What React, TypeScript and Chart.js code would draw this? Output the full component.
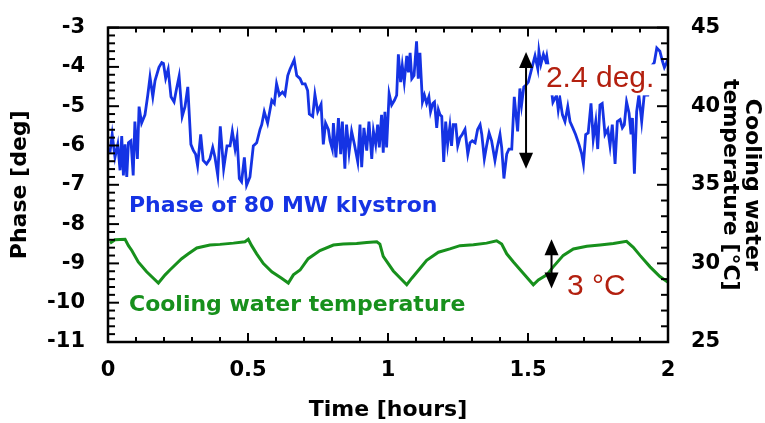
import React, { useEffect, useRef } from 'react';
import { Chart, registerables } from 'chart.js';

Chart.register(...registerables);

// Phase of 80 MW klystron [deg] vs time [hours]
const phaseTime = [
  0.007, 0.015, 0.025, 0.035, 0.043, 0.049, 0.055, 0.061, 0.067, 0.073, 0.082, 0.09, 0.096, 0.105, 0.111, 0.12,
  0.132, 0.142, 0.15, 0.16, 0.168, 0.182, 0.192, 0.198, 0.206, 0.215, 0.225, 0.236, 0.245, 0.254, 0.265, 0.275,
  0.285, 0.296, 0.305, 0.313, 0.32, 0.331, 0.34, 0.352, 0.364, 0.374, 0.382, 0.392, 0.401, 0.413, 0.425, 0.436,
  0.444, 0.454, 0.461, 0.469, 0.477, 0.487, 0.495, 0.507,
  0.519, 0.531, 0.543, 0.549, 0.558, 0.57, 0.585, 0.594, 0.602, 0.612, 0.623, 0.632, 0.642, 0.65, 0.665, 0.674,
  0.686, 0.694, 0.704, 0.713, 0.719, 0.731, 0.739, 0.749, 0.761, 0.769, 0.777, 0.787, 0.793, 0.801, 0.805, 0.814,
  0.823, 0.831, 0.837, 0.846, 0.852, 0.861, 0.87, 0.88, 0.892, 0.9, 0.906, 0.914, 0.924, 0.932, 0.942, 0.948,
  0.956, 0.963, 0.969, 0.977, 0.983, 0.989, 0.995, 1.004,
  1.013, 1.023, 1.031, 1.037, 1.045, 1.051, 1.058, 1.067, 1.073, 1.079, 1.085, 1.093, 1.102, 1.108, 1.114, 1.123,
  1.13, 1.138, 1.146, 1.152, 1.16, 1.166, 1.174, 1.18, 1.186, 1.192, 1.199, 1.206, 1.213, 1.221, 1.227, 1.233,
  1.242, 1.249, 1.257, 1.265, 1.275, 1.285, 1.293, 1.301, 1.311, 1.32, 1.329, 1.335, 1.344, 1.352, 1.361, 1.37,
  1.382, 1.39, 1.4, 1.406, 1.414, 1.424, 1.432, 1.442, 1.451, 1.463, 1.471, 1.477, 1.485, 1.492, 1.501,
  1.513, 1.525, 1.535, 1.539, 1.546, 1.555, 1.563, 1.567, 1.579, 1.589, 1.602, 1.608, 1.614, 1.623, 1.632, 1.642,
  1.65, 1.66, 1.67, 1.682, 1.692, 1.698, 1.706, 1.715, 1.725, 1.733, 1.742, 1.749, 1.757, 1.765, 1.775, 1.785,
  1.793, 1.801, 1.811, 1.819, 1.829, 1.837, 1.844, 1.852, 1.861, 1.868, 1.873, 1.88, 1.888, 1.896, 1.906, 1.915,
  1.928, 1.939, 1.951, 1.96, 1.971, 1.98, 1.987, 1.995, 2.0,
];
const phaseValues = [
  -6.18, -5.72, -6.3, -5.97, -6.63, -5.76, -6.76, -5.97, -6.8, -5.93, -5.88, -6.76, -5.39, -6.34, -5.01, -5.43,
  -5.22, -4.72, -4.26, -4.76, -4.35, -4.01, -3.89, -3.91, -4.29, -4.06, -4.76, -4.89, -4.55, -4.24, -5.26, -5.01,
  -4.51, -5.97, -6.13, -6.22, -6.51, -5.72, -6.38, -6.47, -6.34, -6.05, -6.3, -6.76, -5.51, -6.59, -6.01, -6.01,
  -5.64, -6.09, -5.8, -6.84, -6.92, -6.3, -7.01, -6.8,
  -6.01, -5.93, -5.59, -5.47, -5.14, -5.43, -4.85, -4.93, -4.43, -4.72, -4.64, -4.72, -4.22, -4.06, -3.82, -4.22,
  -4.3, -4.43, -4.43, -4.6, -5.2, -5.26, -4.7, -5.14, -4.95, -5.97, -5.43, -5.59, -5.88, -6.09, -5.43, -6.3,
  -5.3, -6.22, -5.39, -6.59, -5.47, -6.18, -5.64, -5.97, -6.42, -5.47, -6.55, -5.55, -6.13, -5.39, -6.34, -5.64,
  -5.97, -5.47, -6.05, -5.22, -6.18, -5.14, -6.05, -4.68,
  -4.97, -4.85, -4.72, -3.68, -4.39, -3.97, -4.39, -3.72, -4.14, -3.64, -4.3, -4.22, -3.35, -4.3, -3.64, -4.89,
  -4.72, -4.93, -4.76, -5.14, -4.93, -4.89, -5.55, -5.09, -5.22, -5.26, -6.42, -5.39, -5.97, -5.51, -6.01, -5.47,
  -5.47, -6.01, -5.8, -5.72, -5.59, -6.22, -5.93, -5.88, -5.93, -5.59, -5.47, -5.72, -6.34, -6.01, -5.68, -5.88,
  -6.38, -6.05, -5.72, -6.05, -6.84, -6.22, -6.09, -6.09, -4.76, -5.64, -4.55, -4.97, -4.51, -4.47, -4.39,
  -4.05, -3.72, -4.05, -3.6, -3.93, -3.68, -3.85, -3.72, -4.3, -4.9, -4.72, -5.09, -4.8, -5.22, -5.39, -5.01,
  -5.39, -5.55, -5.72, -5.97, -6.22, -6.47, -5.72, -5.68, -4.93, -5.84, -5.39, -6.09, -4.97, -4.93, -5.72, -5.59,
  -6.01, -5.47, -6.47, -5.39, -5.34, -5.55, -5.47, -4.89, -5.18, -5.72, -5.3, -6.72, -5.14, -4.72, -5.39, -4.72,
  -4.72, -4.0, -3.89, -3.52, -3.6, -3.85, -4.01, -3.89, -3.8,
];

// Cooling water temperature [°C] vs time [hours]
const tempTime = [
  0.007, 0.025, 0.061, 0.073, 0.085, 0.108, 0.138, 0.18, 0.204, 0.221, 0.263, 0.287, 0.317, 0.364, 0.4, 0.448,
  0.489, 0.501, 0.513, 0.531, 0.555, 0.585, 0.62, 0.644, 0.662, 0.686, 0.715, 0.757, 0.805, 0.84, 0.888, 0.924,
  0.96, 0.971, 0.983, 1.019, 1.067, 1.085, 1.114, 1.138, 1.18, 1.221, 1.257, 1.305, 1.352, 1.388, 1.406, 1.424,
  1.448, 1.483, 1.519, 1.537, 1.567, 1.59, 1.626, 1.662, 1.71, 1.757, 1.805, 1.852, 1.876, 1.9, 1.936, 1.971, 2.0,
];
const tempValues = [
  31.29, 31.5, 31.54, 31.13, 30.82, 30.09, 29.47, 28.75, 29.27, 29.58, 30.3, 30.61, 30.98, 31.17, 31.21, 31.29,
  31.38, 31.54, 31.13, 30.61, 29.99, 29.47, 29.06, 28.75, 29.27, 29.58, 30.3, 30.82, 31.17, 31.23, 31.27, 31.33,
  31.38, 31.23, 30.45, 29.52, 28.64, 29.06, 29.68, 30.2, 30.71, 30.92, 31.13, 31.19, 31.29, 31.44, 31.23, 30.61,
  30.09, 29.37, 28.64, 28.95, 29.27, 29.78, 30.51, 30.92, 31.09, 31.17, 31.27, 31.4, 31.02, 30.51, 29.78, 29.16, 28.8,
];

const phaseLabel = 'Phase of 80 MW klystron';
const tempLabel = 'Cooling water temperature';
const phaseSpanLabel = '2.4 deg.';
const tempSpanLabel = '3 °C';
const xTitle = 'Time [hours]';
const yTitle = 'Phase [deg]';
const y2Title = ['Cooling water', 'temperature [°C]'];

const BLUE = '#1533e4';
const GREEN = '#17901c';
const RED = '#b3200f';
const BOLD_FAMILY = "'DejaVu Sans', sans-serif";
const PLAIN_FAMILY = "'Liberation Sans', Arial, sans-serif";

// annotation anchors, in data units
const ANN = {
  phaseLabel: { x: 0.075, y: -7.69 },
  tempLabel: { x: 0.075, y2: 27.0 },
  phaseSpanText: { x: 1.564, y: -4.52 },
  tempSpanText: { x: 1.639, y2: 28.0 },
  phaseArrow: { x: 1.493, from: -3.62, to: -6.59 },
  tempArrow: { x: 1.584, from: 31.54, to: 28.4 },
};

function drawArrow(ctx: CanvasRenderingContext2D, x: number, yTop: number, yBot: number) {
  const head = 16;
  const half = 7;
  ctx.strokeStyle = '#000';
  ctx.fillStyle = '#000';
  ctx.lineWidth = 2;
  ctx.beginPath();
  ctx.moveTo(x, yTop + head - 1);
  ctx.lineTo(x, yBot - head + 1);
  ctx.stroke();
  ctx.beginPath();
  ctx.moveTo(x, yTop);
  ctx.lineTo(x - half, yTop + head);
  ctx.lineTo(x + half, yTop + head);
  ctx.closePath();
  ctx.fill();
  ctx.beginPath();
  ctx.moveTo(x, yBot);
  ctx.lineTo(x - half, yBot - head);
  ctx.lineTo(x + half, yBot - head);
  ctx.closePath();
  ctx.fill();
}

const frameTicks = {
  id: 'frameTicks',
  afterDatasetsDraw(chart: any) {
    const { ctx, chartArea: a, scales } = chart;
    const xs = scales.x, ys = scales.y, y2s = scales.y2;
    ctx.save();
    ctx.strokeStyle = '#000';
    ctx.lineWidth = 2;
    const seg = (x1: number, y1: number, x2: number, y2: number) => {
      ctx.beginPath();
      ctx.moveTo(x1, y1);
      ctx.lineTo(x2, y2);
      ctx.stroke();
    };
    for (let i = 0; i <= 20; i++) {
      const px = xs.getPixelForValue(i * 0.1);
      const len = i % 5 === 0 ? 9 : 5;
      seg(px, a.top, px, a.top + len);
      seg(px, a.bottom, px, a.bottom - len);
    }
    for (let i = 0; i <= 40; i++) {
      const py = ys.getPixelForValue(-11 + i * 0.2);
      const len = i % 5 === 0 ? 11 : 7;
      seg(a.left, py, a.left + len, py);
    }
    for (let i = 0; i <= 20; i++) {
      const py = y2s.getPixelForValue(25 + i);
      const len = i % 5 === 0 ? 11 : 7;
      seg(a.right, py, a.right - len, py);
    }
    ctx.lineWidth = 2.5;
    ctx.strokeRect(a.left, a.top, a.right - a.left, a.bottom - a.top);
    ctx.restore();
  },
};

const annotations = {
  id: 'annotations',
  afterDatasetsDraw(chart: any) {
    const { ctx, scales } = chart;
    const xs = scales.x, ys = scales.y, y2s = scales.y2;
    ctx.save();
    ctx.textAlign = 'left';
    ctx.textBaseline = 'alphabetic';
    ctx.font = `bold 22px ${BOLD_FAMILY}`;
    ctx.fillStyle = BLUE;
    ctx.fillText(phaseLabel, xs.getPixelForValue(ANN.phaseLabel.x), ys.getPixelForValue(ANN.phaseLabel.y));
    ctx.fillStyle = GREEN;
    ctx.fillText(tempLabel, xs.getPixelForValue(ANN.tempLabel.x), y2s.getPixelForValue(ANN.tempLabel.y2));

    ctx.font = `30px ${PLAIN_FAMILY}`;
    const tx = xs.getPixelForValue(ANN.phaseSpanText.x);
    const ty = ys.getPixelForValue(ANN.phaseSpanText.y);
    const m = ctx.measureText(phaseSpanLabel);
    ctx.fillStyle = '#fff';
    ctx.fillRect(tx - 1, ty - m.actualBoundingBoxAscent - 1, m.width + 2, m.actualBoundingBoxAscent + m.actualBoundingBoxDescent + 3);
    ctx.fillStyle = RED;
    ctx.fillText(phaseSpanLabel, tx, ty);
    ctx.fillText(tempSpanLabel, xs.getPixelForValue(ANN.tempSpanText.x), y2s.getPixelForValue(ANN.tempSpanText.y2));

    drawArrow(ctx, xs.getPixelForValue(ANN.phaseArrow.x), ys.getPixelForValue(ANN.phaseArrow.from), ys.getPixelForValue(ANN.phaseArrow.to));
    drawArrow(ctx, xs.getPixelForValue(ANN.tempArrow.x), y2s.getPixelForValue(ANN.tempArrow.from), y2s.getPixelForValue(ANN.tempArrow.to));
    ctx.restore();
  },
};

export default function App() {
  const ref = useRef<HTMLCanvasElement | null>(null);
  useEffect(() => {
    if (!ref.current) return;
    const tickFont = { family: BOLD_FAMILY, size: 21, weight: 'bold' as const };
    const titleFont = { family: BOLD_FAMILY, size: 22, weight: 'bold' as const, lineHeight: 1.0 };
    const chart = new Chart(ref.current, {
      type: 'line',
      data: {
        datasets: [
          {
            label: phaseLabel,
            data: phaseTime.map((t, i) => ({ x: t, y: phaseValues[i] })),
            borderColor: BLUE,
            borderWidth: 2.8,
            pointRadius: 0,
            tension: 0,
            yAxisID: 'y',
          },
          {
            label: tempLabel,
            data: tempTime.map((t, i) => ({ x: t, y: tempValues[i] })),
            borderColor: GREEN,
            borderWidth: 3,
            pointRadius: 0,
            tension: 0,
            yAxisID: 'y2',
          },
        ],
      },
      options: {
        animation: false,
        responsive: false,
        devicePixelRatio: 1,
        layout: { padding: { top: 21, left: 0, right: 0, bottom: 0 } },
        plugins: { legend: { display: false }, tooltip: { enabled: false } },
        scales: {
          x: {
            type: 'linear',
            min: 0,
            max: 2,
            ticks: {
              stepSize: 0.5,
              color: '#000',
              font: tickFont,
              padding: 8,
              maxRotation: 0,
              callback: (v: any) => String(Math.round(Number(v) * 10) / 10),
            },
            grid: { display: false },
            border: { display: false },
            title: { display: true, text: xTitle, color: '#000', font: titleFont, padding: { top: 0, bottom: 2 } },
            afterFit: (s: any) => { s.height = 81; },
          },
          y: {
            type: 'linear',
            position: 'left',
            min: -11,
            max: -3,
            ticks: { stepSize: 1, color: '#000', font: tickFont, padding: 15 },
            grid: { display: false },
            border: { display: false },
            title: { display: true, text: yTitle, color: '#000', font: titleFont, padding: { top: 9, bottom: 0 } },
            afterFit: (s: any) => { s.width = 108; },
          },
          y2: {
            type: 'linear',
            position: 'right',
            min: 25,
            max: 45,
            ticks: { stepSize: 5, color: '#000', font: tickFont, padding: 15 },
            grid: { display: false },
            border: { display: false },
            title: { display: true, text: y2Title, color: '#000', font: titleFont, padding: { top: 2, bottom: 0 } },
            afterFit: (s: any) => { s.width = 97; },
          },
        },
      },
      plugins: [frameTicks, annotations],
    });
    return () => chart.destroy();
  }, []);
  return (
    <div style={{ position: 'absolute', left: 0, top: 0, width: 765, height: 423, background: '#fff' }}>
      <canvas ref={ref} width={765} height={423} />
    </div>
  );
}
